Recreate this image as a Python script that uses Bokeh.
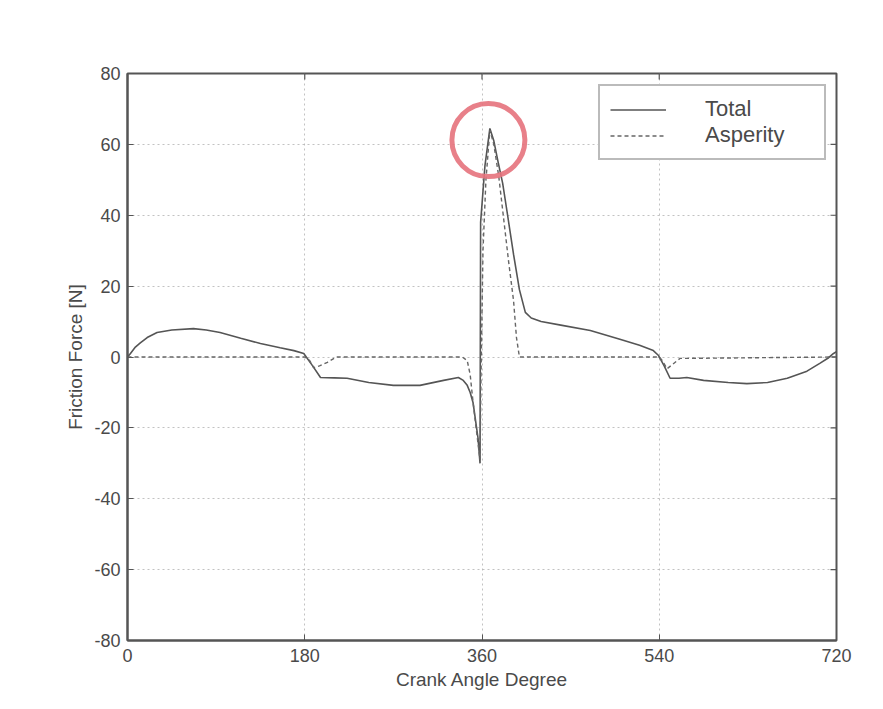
import math
from bokeh.plotting import figure
from bokeh.models import Legend, LegendItem, Range1d, FixedTicker, PrintfTickFormatter
from bokeh.embed import file_html
from bokeh.resources import INLINE

# ---- data ----
x_ticks = [0, 180, 360, 540, 720]
y_ticks = [-80, -60, -40, -20, 0, 20, 40, 60, 80]

total_angle = [0, 3, 8, 13, 20, 30, 45, 67, 80, 94, 115, 135, 155, 169, 179,
               188, 196, 210, 223, 245, 270, 297, 321, 336, 341, 345, 348, 351,
               353, 356, 358, 358.6, 363, 368, 372, 376, 381, 386, 392, 398, 404,
               410, 420, 440, 470, 500, 520, 534, 539, 545, 551, 560, 568, 585,
               610, 629, 650, 670, 690, 703, 712, 717, 720]
total_force = [0, 1, 2.8, 4, 5.5, 6.9, 7.6, 8.0, 7.6, 6.9, 5.3, 3.8, 2.6, 1.8, 1.0,
               -2.5, -5.8, -5.9, -6, -7.2, -8, -8, -6.6, -5.8, -6.6, -8, -10, -13,
               -17, -23, -30, 38, 54, 64.5, 61, 55.5, 49, 40, 29, 19, 12.6,
               11, 10, 9, 7.5, 5, 3.3, 1.8, 0.5, -2.5, -6, -6, -5.8, -6.6,
               -7.2, -7.5, -7.2, -6, -4, -1.8, -0.2, 1, 1.5]

asp_angle = [0, 180, 185, 189, 195, 203, 212, 340, 345, 348, 351, 354, 358, 359,
             361, 364, 368, 372, 377, 382, 387, 392, 395, 398, 540, 543, 548, 554,
             561, 720]
asp_force = [0, 0, -1, -3, -2.5, -1.5, 0, 0, -1, -5, -13, -20, -29, -5,
             30, 50, 64, 60, 51, 39, 27, 16, 5.5, 0, 0, -1, -3.3, -2,
             -0.4, 0]

# highlighted peak marker (red circle)
mark_x = [366.5]
mark_y = [61.2]

series_labels = ["Total", "Asperity"]

FONT = "Liberation Sans"
TXT = "#4a4a4a"
LINE = "#555555"

p = figure(frame_width=709, frame_height=567,
           x_range=Range1d(0, 720), y_range=Range1d(-80, 80),
           output_backend="svg", toolbar_location=None,
           min_border_left=127, min_border_right=39,
           min_border_top=73, min_border_bottom=61)

p.outline_line_color = LINE
p.outline_line_width = 2

for ax in (p.xaxis[0], p.yaxis[0]):
    ax.axis_line_color = LINE
    ax.axis_line_width = 2
    ax.major_tick_in = 6
    ax.major_tick_out = 0
    ax.minor_tick_line_color = None
    ax.major_tick_line_color = LINE
    ax.major_label_text_font = FONT
    ax.major_label_text_font_size = "18px"
    ax.major_label_text_color = TXT
    ax.axis_label_text_font = FONT
    ax.axis_label_text_font_size = "19px"
    ax.axis_label_text_font_style = "normal"
    ax.axis_label_text_color = TXT
    ax.formatter = PrintfTickFormatter(format="%d")

p.xaxis.ticker = FixedTicker(ticks=x_ticks)
p.yaxis.ticker = FixedTicker(ticks=y_ticks)
p.xaxis.axis_label = "Crank Angle Degree"
p.yaxis.axis_label = "Friction Force [N]"
p.xaxis.major_label_standoff = 8
p.yaxis.major_label_standoff = 7
p.xaxis.axis_label_standoff = 4
p.yaxis.axis_label_standoff = 5

p.xgrid.ticker = FixedTicker(ticks=x_ticks)
p.ygrid.ticker = FixedTicker(ticks=y_ticks)
p.grid.grid_line_color = "#a8a8a8"
p.grid.grid_line_alpha = 0.7
p.grid.grid_line_dash = "2 3"
p.grid.grid_line_width = 1

# inward ticks on the top and right edges of the box (half of each dash is clipped)
p.scatter(x_ticks, [p.y_range.end] * len(x_ticks), marker="dash", size=12,
          angle=math.pi / 2, line_color=LINE, line_width=1.2)
p.scatter([p.x_range.end] * len(y_ticks), y_ticks, marker="dash", size=12,
          line_color=LINE, line_width=1.2)

r_total = p.line(total_angle, total_force, line_color=LINE, line_width=1.6)
r_asp = p.line(asp_angle, asp_force, line_color="#666666", line_width=1.4,
               line_dash="4 3")

p.scatter(mark_x, mark_y, marker="circle", size=73, fill_color=None,
          line_color="#e5727c", line_width=5, line_alpha=0.9)

legend = Legend(items=[LegendItem(label=series_labels[0], renderers=[r_total]),
                       LegendItem(label=series_labels[1], renderers=[r_asp])],
                location=(471, 480), padding=10, spacing=0, margin=0,
                label_height=23, glyph_height=23, glyph_width=56,
                label_standoff=39, label_width=109,
                label_text_font=FONT, label_text_font_size="22px",
                label_text_color=TXT,
                border_line_color="#777777", border_line_width=2,
                background_fill_color="white", background_fill_alpha=1)
p.add_layout(legend)

open("out.html", "w").write(file_html(p, INLINE))
